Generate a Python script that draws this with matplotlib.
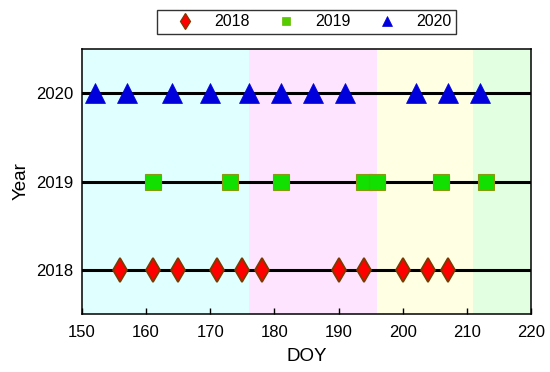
import matplotlib
matplotlib.use("Agg")
import matplotlib.pyplot as plt
from matplotlib.lines import Line2D

plt.rcParams['font.family'] = ['Liberation Sans', 'DejaVu Sans']

years = [2018, 2019, 2020]
doy_2018 = [156, 161, 165, 171, 175, 178, 190, 194, 200, 204, 207]
doy_2019 = [161, 173, 181, 194, 196, 206, 213]
doy_2020 = [152, 157, 164, 170, 176, 181, 186, 191, 202, 207, 212]

# background periods (start, end, colour)
period_edges = [150, 176, 196, 211, 220]
period_colors = ['#e0ffff', '#ffe4ff', '#ffffe4', '#e2ffe2']

xticks = [150, 160, 170, 180, 190, 200, 210, 220]

fig = plt.figure(figsize=(5.5, 3.72), dpi=100)
ax = fig.add_axes([0.149, 0.156, 0.8165, 0.712])

for i, c in enumerate(period_colors):
    ax.axvspan(period_edges[i], period_edges[i + 1], color=c, lw=0, zorder=0)

for y in years:
    ax.axhline(y, color='black', lw=2.2, zorder=1)

ax.plot(doy_2018, [years[0]] * len(doy_2018), ls='none', marker='d', ms=12.5,
        mfc='#ff0000', mec='#7a3a00', mew=1.3, zorder=3)
ax.plot(doy_2019, [years[1]] * len(doy_2019), ls='none', marker='s', ms=11.3,
        mfc='#11e000', mec='#8a9a10', mew=0.8, zorder=3)
ax.plot(doy_2020, [years[2]] * len(doy_2020), ls='none', marker='^', ms=14,
        mfc='#0000dd', mec='#0000dd', mew=0.5, zorder=3)

ax.set_xlim(150, 220)
ax.set_ylim(2017.5, 2020.5)
ax.set_xticks(xticks)
ax.set_yticks(years)
ax.set_yticklabels([str(y) for y in years])
ax.tick_params(axis='both', direction='in', labelsize=12, length=4, width=1)
ax.tick_params(axis='x', pad=8)
ax.tick_params(axis='y', pad=6)
ax.set_xlabel('DOY', fontsize=13.5, labelpad=6)
ax.set_ylabel('Year', fontsize=13.5, labelpad=5)
for s in ax.spines.values():
    s.set_linewidth(1.1)

handles = [
    Line2D([], [], ls='none', marker='d', ms=8, mfc='#ff0000', mec='#7a3a00', mew=0.9),
    Line2D([], [], ls='none', marker='s', ms=6.3, mfc='#55cc00', mec='#66bb00', mew=0.5),
    Line2D([], [], ls='none', marker='^', ms=7.5, mfc='#0000dd', mec='#0000dd', mew=0.5),
]
leg = fig.legend(handles, ['2018', '2019', '2020'], ncol=3, loc='center',
                 bbox_to_anchor=(0.557, 0.941), fontsize=11.5, frameon=True,
                 fancybox=False, edgecolor='black', handletextpad=0.3,
                 columnspacing=0.8, handlelength=3.0, borderpad=0.3)
leg.get_frame().set_linewidth(1.0)

fig.savefig('out.png', dpi=100)
